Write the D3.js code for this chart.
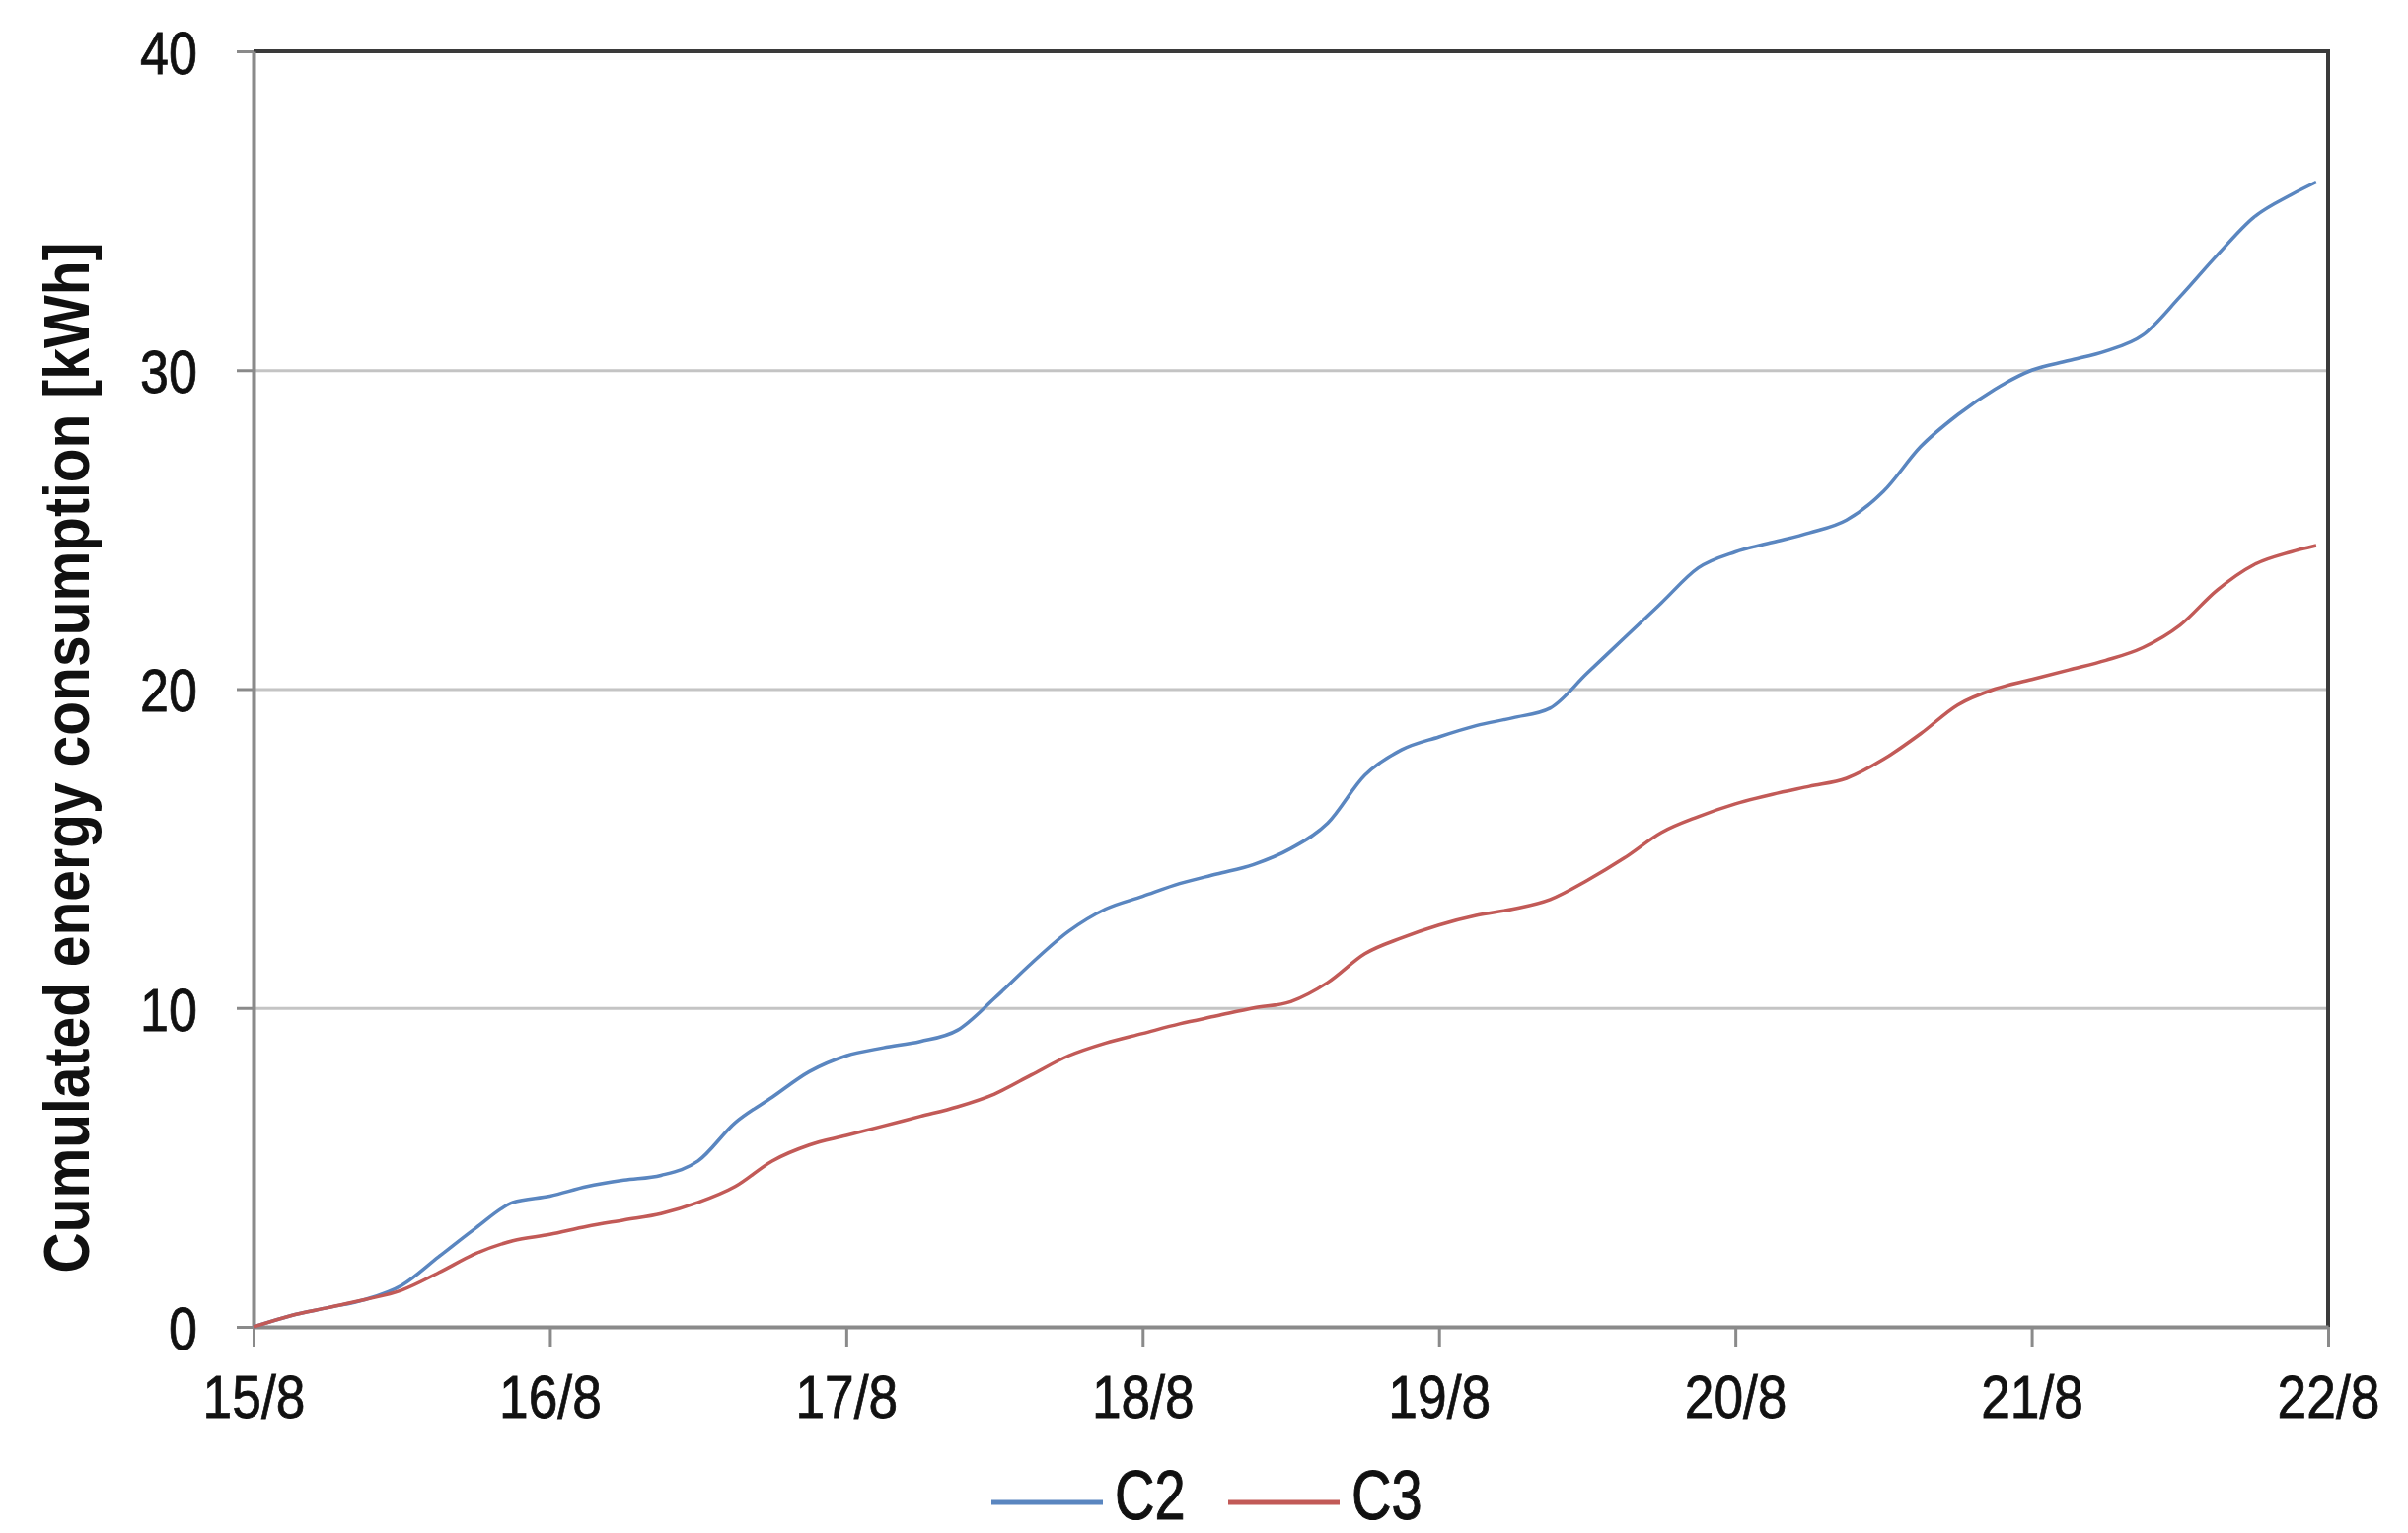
<!DOCTYPE html>
<html>
<head>
<meta charset="utf-8">
<script src="https://cdn.jsdelivr.net/npm/d3@7"></script>
<style>
  body { margin: 0; background: #fff; }
  text { font-family: "Liberation Sans", Arial, sans-serif; fill: #111; }
</style>
</head>
<body>
<div id="chart"></div>
<script>
// readings, every 3 hours (days since 15/8)
var days = [0, 0.125, 0.25, 0.375, 0.5, 0.625, 0.75, 0.875,
  1, 1.125, 1.25, 1.375, 1.5, 1.625, 1.75, 1.875,
  2, 2.125, 2.25, 2.375, 2.5, 2.625, 2.75, 2.875,
  3, 3.125, 3.25, 3.375, 3.5, 3.625, 3.75, 3.875,
  4, 4.125, 4.25, 4.375, 4.5, 4.625, 4.75, 4.875,
  5, 5.125, 5.25, 5.375, 5.5, 5.625, 5.75, 5.875,
  6, 6.125, 6.25, 6.375, 6.5, 6.625, 6.75, 6.875, 6.96];

var c2 = [0, 0.35, 0.6, 0.85, 1.3, 2.2, 3.1, 3.9,
  4.1, 4.4, 4.6, 4.75, 5.2, 6.4, 7.2, 8.0,
  8.5, 8.75, 8.95, 9.3, 10.3, 11.4, 12.4, 13.1,
  13.5, 13.9, 14.2, 14.5, 15.0, 15.8, 17.3, 18.1,
  18.5, 18.85, 19.1, 19.4, 20.5, 21.6, 22.7, 23.8,
  24.3, 24.6, 24.9, 25.3, 26.2, 27.6, 28.6, 29.4,
  30.0, 30.3, 30.6, 31.1, 32.3, 33.6, 34.8, 35.5, 35.9];

var c3 = [0, 0.35, 0.6, 0.85, 1.15, 1.7, 2.3, 2.7,
  2.9, 3.15, 3.35, 3.55, 3.9, 4.4, 5.2, 5.7,
  6.0, 6.3, 6.6, 6.9, 7.3, 7.9, 8.5, 8.9,
  9.2, 9.5, 9.75, 10.0, 10.2, 10.8, 11.7, 12.2,
  12.6, 12.9, 13.1, 13.4, 14.0, 14.7, 15.5, 16.0,
  16.4, 16.7, 16.95, 17.2, 17.8, 18.6, 19.5, 20.0,
  20.3, 20.6, 20.9, 21.3, 22.0, 23.1, 23.9, 24.3, 24.5];

var dayLabels = ["15/8", "16/8", "17/8", "18/8", "19/8", "20/8", "21/8", "22/8"];
var yTicks = [0, 10, 20, 30, 40];
var gridTicks = [10, 20, 30];
var seriesNames = ["C2", "C3"];
var seriesColors = ["#5a86c0", "#c25a57"];

var W = 2441, H = 1554;
var margin = {left: 257, right: 81, top: 52, bottom: 209};
var width = W - margin.left - margin.right,
    height = H - margin.top - margin.bottom;

var svg = d3.select("#chart").append("svg")
    .attr("width", W).attr("height", H);

var g = svg.append("g")
    .attr("transform", "translate(" + margin.left + "," + margin.top + ")");

var x = d3.scaleLinear().domain([0, 7]).range([0, width]);
var y = d3.scaleLinear().domain([0, 40]).range([height, 0]);

// gridlines
g.append("g")
    .call(d3.axisLeft(y).tickValues(gridTicks).tickSize(-width).tickFormat(""))
    .call(function(s) {
      s.select(".domain").remove();
      s.selectAll("line").attr("stroke", "#c4c4c4").attr("stroke-width", 3);
    });

// top and right border (dark)
g.append("path")
    .attr("d", "M0,0H" + width + "V" + height)
    .attr("fill", "none")
    .attr("stroke", "#3a3a3a")
    .attr("stroke-width", 4);

// y axis
var yAxis = g.append("g")
    .call(d3.axisLeft(y).tickValues(yTicks).tickSize(17).tickSizeOuter(0).tickPadding(0));
yAxis.select(".domain").attr("stroke", "#8a8a8a").attr("stroke-width", 4);
yAxis.selectAll("line").attr("stroke", "#8a8a8a").attr("stroke-width", 3);
yAxis.selectAll("text")
    .attr("font-size", 62)
    .attr("font-family", "Liberation Sans, Arial, sans-serif")
    .attr("fill", "#111")
    .attr("stroke", "#111").attr("stroke-width", 0.8)
    .attr("x", -57 / 0.84)
    .attr("dy", "0.36em")
    .attr("transform", "scale(0.84,1)");

// x axis
var xAxis = g.append("g")
    .attr("transform", "translate(0," + height + ")")
    .call(d3.axisBottom(x).tickValues(d3.range(dayLabels.length))
      .tickFormat(function(d) { return dayLabels[d]; })
      .tickSize(20).tickSizeOuter(0).tickPadding(28));
xAxis.select(".domain").attr("stroke", "#8a8a8a").attr("stroke-width", 4);
xAxis.selectAll("line").attr("stroke", "#8a8a8a").attr("stroke-width", 3);
xAxis.selectAll("text")
    .attr("font-size", 62)
    .attr("font-family", "Liberation Sans, Arial, sans-serif")
    .attr("fill", "#111")
    .attr("stroke", "#111").attr("stroke-width", 0.8)
    .attr("transform", "scale(0.86,1)");

// lines
var line = d3.line()
    .x(function(d) { return x(d[0]); })
    .y(function(d) { return y(d[1]); })
    .curve(d3.curveMonotoneX);

[c2, c3].forEach(function(vals, i) {
  g.append("path")
    .datum(days.map(function(t, j) { return [t, vals[j]]; }))
    .attr("fill", "none")
    .attr("stroke", seriesColors[i])
    .attr("stroke-width", 3.5)
    .attr("stroke-linejoin", "round")
    .attr("d", line);
});

// y title
svg.append("text")
    .attr("transform", "translate(90,768) rotate(-90)")
    .attr("text-anchor", "middle")
    .attr("font-size", 64)
    .attr("font-weight", "bold")
    .attr("textLength", 1045)
    .attr("lengthAdjust", "spacingAndGlyphs")
    .text("Cumulated energy consumption [kWh]");

// legend
var legendX = [1005, 1245];
seriesNames.forEach(function(name, i) {
  var lg = svg.append("g").attr("transform", "translate(" + legendX[i] + ",1523)");
  lg.append("line")
    .attr("x1", 0).attr("x2", 113)
    .attr("stroke", seriesColors[i]).attr("stroke-width", 5);
  lg.append("text")
    .attr("x", 125 / 0.8)
    .attr("y", 17)
    .attr("font-size", 70)
    .attr("stroke", "#111").attr("stroke-width", 1)
    .attr("transform", "scale(0.8,1)")
    .text(name);
});
</script>
</body>
</html>
